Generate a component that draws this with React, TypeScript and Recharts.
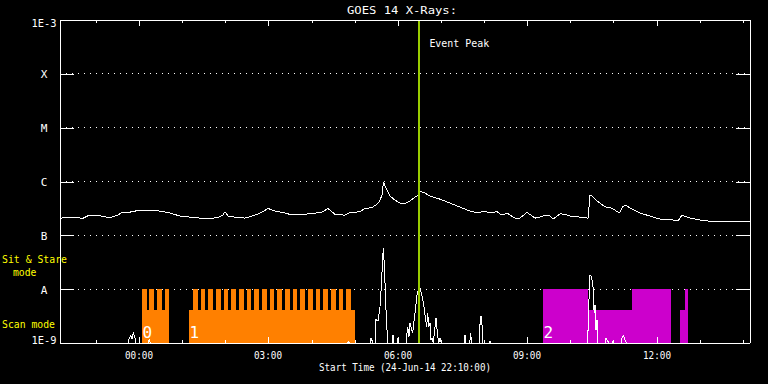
import React from 'react'
import { ComposedChart, Line, XAxis, YAxis, CartesianGrid, ReferenceArea, ReferenceLine } from 'recharts'

const W = 768
const H = 384
const FONT = '"DejaVu Sans Mono", monospace'

// hours from 00:00 UT (25-Jun-14); the plot starts 24-Jun-14 22:10
const longHours = [
  -1.833, -1.671, -1.486, -1.3, -1.184, -0.906, -0.674, -0.489, -0.396, -0.21,
  0.022, 0.254, 0.486, 0.718, 0.949, 1.181, 1.413, 1.645, 1.83, 1.946,
  1.993, 2.062, 2.225, 2.457, 2.689, 2.851, 2.99, 3.152, 3.384, 3.5,
  3.732, 3.964, 4.242, 4.381, 4.543, 4.775, 4.891, 5.123, 5.239, 5.401,
  5.54, 5.587, 5.633, 5.668, 5.726, 5.819, 5.935, 6.051, 6.167, 6.283,
  6.399, 6.468, 6.5, 6.631, 6.747, 6.979, 7.21, 7.442, 7.674, 7.859,
  7.975, 8.137, 8.3, 8.416, 8.532, 8.717, 8.833, 8.996, 9.181, 9.297,
  9.413, 9.529, 9.599, 9.761, 9.877, 9.993, 10.225, 10.411, 10.457, 10.48,
  10.573, 10.689, 10.805, 10.967, 11.106, 11.153, 11.222, 11.292, 11.384, 11.616,
  11.848, 12.08, 12.312, 12.497, 12.59, 12.776, 13.008, 13.24, 13.472, 13.704,
  13.936, 14.167,
]
const longFlux = [
  2.07e-7, 2.18e-7, 2.14e-7, 2.07e-7, 2.31e-7, 2.31e-7, 2.12e-7, 2.37e-7, 2.67e-7, 2.7e-7,
  2.94e-7, 2.94e-7, 2.82e-7, 2.59e-7, 2.28e-7, 2.18e-7, 2.09e-7, 2.05e-7, 2.14e-7, 2.4e-7,
  2.74e-7, 2.28e-7, 2.18e-7, 2.09e-7, 2.37e-7, 2.7e-7, 3.16e-7, 2.82e-7, 2.59e-7, 2.45e-7,
  2.47e-7, 2.5e-7, 2.7e-7, 3.16e-7, 2.45e-7, 2.37e-7, 2.64e-7, 2.74e-7, 3.16e-7, 3.27e-7,
  3.92e-7, 4.51e-7, 5.58e-7, 9.84e-7, 7.52e-7, 5.35e-7, 4.51e-7, 3.96e-7, 3.9e-7, 4.34e-7,
  5.12e-7, 5.58e-7, 6.7e-7, 6.07e-7, 5.35e-7, 4.7e-7, 3.96e-7, 3.34e-7, 2.82e-7, 2.59e-7,
  2.82e-7, 2.64e-7, 2.74e-7, 2.37e-7, 2.59e-7, 2.09e-7, 2.09e-7, 2.67e-7, 2.09e-7, 2.18e-7,
  2.37e-7, 2.28e-7, 2.0e-7, 2.5e-7, 2.47e-7, 2.28e-7, 2.18e-7, 2.09e-7, 5.58e-7, 5.58e-7,
  4.7e-7, 3.96e-7, 3.39e-7, 3.2e-7, 2.7e-7, 2.7e-7, 3.45e-7, 3.6e-7, 3.2e-7, 2.59e-7,
  2.28e-7, 2.0e-7, 1.97e-7, 1.84e-7, 2.37e-7, 2.09e-7, 1.93e-7, 1.82e-7, 1.78e-7, 1.82e-7,
  1.84e-7, 1.78e-7,
]

const shortHours = [
  -1.833, -0.257, -0.226, -0.194, -0.164, -0.133, -0.101, -0.071, 0.207, 0.237,
  0.265, 4.822, 4.852, 4.88, 5.355, 5.378, 5.425, 5.483, 5.494, 5.541,
  5.587, 5.622, 5.65, 5.664, 5.68, 5.703, 5.726, 5.749, 5.772, 5.865,
  5.888, 5.911, 5.981, 6.004, 6.027, 6.19, 6.229, 6.259, 6.283, 6.322,
  6.345, 6.382, 6.415, 6.438, 6.461, 6.515, 6.554, 6.591, 6.631, 6.67,
  6.693, 6.716, 6.746, 6.77, 6.793, 6.823, 6.886, 6.916, 6.948, 6.978,
  7.009, 7.535, 7.558, 7.581, 7.667, 7.69, 7.709, 7.894, 7.906, 7.929,
  7.952, 7.975, 8.126, 8.138, 8.149, 10.387, 10.41, 10.433, 10.457, 10.487,
  10.503, 10.526, 10.542, 10.556, 10.573, 10.596, 10.619, 10.642, 10.805, 10.828,
  10.851, 10.897, 10.974, 10.997, 11.013, 11.175, 11.199, 11.238, 11.268, 11.306,
  14.167,
]
const shortFlux = [
  1e-9, 1e-9, 1.25e-9, 1.37e-9, 1.2e-9, 1.55e-9, 1.3e-9, 1e-9, 1e-9, 1.15e-9,
  1e-9, 1e-9, 1.06e-9, 1e-9, 1e-9, 1.25e-9, 1e-9, 1e-9, 2.7e-9, 2.6e-9,
  4.7e-9, 1.31e-8, 3.96e-8, 5.8e-8, 3.49e-8, 1.31e-8, 4.14e-9, 1.76e-9, 1e-9, 1e-9,
  1.43e-9, 1e-9, 1e-9, 1.25e-9, 1e-9, 1e-9, 2.0e-9, 1.3e-9, 2.38e-9, 1.76e-9,
  1.55e-9, 2.82e-9, 4.5e-9, 7.2e-9, 8.9e-9, 1.06e-8, 7.8e-9, 5.8e-9, 3.34e-9, 2.0e-9,
  3.64e-9, 2.0e-9, 2.38e-9, 1.15e-9, 1.25e-9, 1e-9, 2.94e-9, 1.55e-9, 1e-9, 1.25e-9,
  1e-9, 1e-9, 1.43e-9, 1e-9, 1e-9, 1.5e-9, 1e-9, 1e-9, 2.2e-9, 3.2e-9,
  2.18e-9, 1e-9, 1e-9, 1.1e-9, 1e-9, 1e-9, 1.64e-9, 6.3e-9, 1.84e-8, 1.71e-8,
  1.49e-8, 1.12e-8, 4.76e-9, 3.64e-9, 5.1e-9, 1.76e-9, 2.7e-9, 1e-9, 1e-9, 1.25e-9,
  1.15e-9, 1e-9, 1e-9, 1.1e-9, 1e-9, 1e-9, 1.25e-9, 1.37e-9, 1.15e-9, 1e-9,
  1e-9,
]

// observing mode blocks: [start, end] in hours
const orangeScan = [[0.068, 0.694], [1.158, 5.007]]
const orangeStare = [
  [0.068, 0.177], [0.23, 0.346], [0.416, 0.532], [0.602, 0.694],
  [1.251, 1.36], [1.429, 1.538], [1.606, 1.715], [1.784, 1.893], [1.963, 2.072],
  [2.139, 2.248], [2.318, 2.427], [2.496, 2.605], [2.672, 2.781], [2.851, 2.96],
  [3.029, 3.138], [3.206, 3.315], [3.384, 3.493], [3.563, 3.672], [3.739, 3.848],
  [3.917, 4.026], [4.096, 4.205], [4.272, 4.381], [4.451, 4.56], [4.629, 4.738],
  [4.806, 4.915],
]
const magentaScan = [[10.41, 11.43], [12.544, 12.66]]
const magentaStare = [[9.366, 10.41], [11.43, 12.335], [12.66, 12.73]]
const blockNames = ['0', '1', '2']
const blockStarts = [0.068, 1.158, 9.366]
const stareLevel = 1e-8
const scanLevel = 4.14e-9
const eventPeak = 6.5

const yTicks = [1e-9, 1e-8, 1e-7, 1e-6, 1e-5, 1e-4, 1e-3]
const yLabels = ['1E-9', 'A', 'B', 'C', 'M', 'X', '1E-3']
const hourTicks = [-1, 0, 1, 2, 3, 4, 5, 6, 7, 8, 9, 10, 11, 12, 13, 14]
const labelHours = [0, 3, 6, 9, 12]
const labelTexts = ['00:00', '03:00', '06:00', '09:00', '12:00']

const longData = longHours.map((t, i) => ({ t, f: longFlux[i] }))
const shortData = shortHours.map((t, i) => ({ t, f: shortFlux[i] }))

const ORANGE = '#ff8000'
const MAGENTA = '#cc00cc'
const PLOT_TOP = 20
const PLOT_BOTTOM = 343
const PLOT_LEFT = 60
const PLOT_RIGHT = 750

const txt = { fill: '#fff', fontFamily: FONT, fontSize: 11 }

const BottomTick = (p: any) => {
  const k = labelHours.indexOf(p.payload.value)
  const len = k >= 0 ? 6 : 3
  const x = Math.round(p.x)
  return (
    <g>
      <rect x={x} y={PLOT_BOTTOM - len} width={1} height={len} fill="#fff" />
      {k >= 0 && (
        <text x={x} y={PLOT_BOTTOM + 16} textAnchor="middle" {...txt} textLength={28} lengthAdjust="spacingAndGlyphs">
          {labelTexts[k]}
        </text>
      )}
    </g>
  )
}

const TopTick = (p: any) => {
  const len = labelHours.indexOf(p.payload.value) >= 0 ? 6 : 3
  return <rect x={Math.round(p.x)} y={PLOT_TOP} width={1} height={len} fill="#fff" />
}

const LeftTick = (p: any) => {
  const i = p.index
  const shift = i === 0 ? -3 : i === yTicks.length - 1 ? 2.7 : 0.5
  const label = yLabels[i]
  return (
    <g>
      <rect x={PLOT_LEFT} y={Math.round(p.y)} width={14} height={1} fill="#fff" />
      <text
        x={44} y={p.y + shift + 4} textAnchor="middle" {...txt}
        {...(label.length > 1 ? { textLength: 25, lengthAdjust: 'spacingAndGlyphs' } : {})}
      >
        {label}
      </text>
    </g>
  )
}

const RightTick = (p: any) => <rect x={PLOT_RIGHT - 14} y={Math.round(p.y)} width={14} height={1} fill="#fff" />

const blockLabel = (name: string) => (p: any) => (
  <text x={p.viewBox.x + 0.5} y={p.viewBox.y + p.viewBox.height - 4.7} fill="#fff" fontFamily={FONT} fontSize={16}>
    {name}
  </text>
)

const peakLabel = (p: any) => (
  <text x={p.viewBox.x + 10} y={p.viewBox.y + 27} {...txt} textLength={60} lengthAdjust="spacingAndGlyphs">
    Event Peak
  </text>
)

export default function App() {
  return (
    <div style={{ position: 'absolute', left: 0, top: 0, width: W, height: H, background: '#000', shapeRendering: 'crispEdges' }}>
      <ComposedChart width={W} height={H} margin={{ top: 0, right: 0, bottom: 0, left: 0 }}>
        <CartesianGrid vertical={false} stroke="#fff" strokeDasharray="1 5" />
        {orangeScan.map(([a, b], i) => (
          <ReferenceArea key={'os' + i} x1={a} x2={b} y1={1e-9} y2={scanLevel} fill={ORANGE} fillOpacity={1} stroke="none" />
        ))}
        {orangeStare.map(([a, b], i) => (
          <ReferenceArea key={'oh' + i} x1={a} x2={b} y1={1e-9} y2={stareLevel} fill={ORANGE} fillOpacity={1} stroke="none" />
        ))}
        {magentaScan.map(([a, b], i) => (
          <ReferenceArea key={'ms' + i} x1={a} x2={b} y1={1e-9} y2={scanLevel} fill={MAGENTA} fillOpacity={1} stroke="none" />
        ))}
        {magentaStare.map(([a, b], i) => (
          <ReferenceArea key={'mh' + i} x1={a} x2={b} y1={1e-9} y2={stareLevel} fill={MAGENTA} fillOpacity={1} stroke="none" />
        ))}
        {blockNames.map((n, i) => (
          <ReferenceLine key={'bl' + i} x={blockStarts[i]} strokeOpacity={0} label={blockLabel(n)} />
        ))}
        <Line data={longData} dataKey="f" type="linear" stroke="#fff" strokeWidth={1} dot={false} isAnimationActive={false} />
        <Line data={shortData} dataKey="f" type="linear" stroke="#fff" strokeWidth={1} dot={false} isAnimationActive={false} />
        <ReferenceLine x={eventPeak} stroke="#99cc00" strokeWidth={2} label={peakLabel} />
        <XAxis
          type="number" dataKey="t" domain={[-11 / 6, 85 / 6]} ticks={hourTicks} interval={0} allowDataOverflow
          height={H - PLOT_BOTTOM} axisLine={{ stroke: '#fff' }} tickLine={false} tick={BottomTick}
        />
        <XAxis
          xAxisId="top" orientation="top" type="number" dataKey="t" domain={[-11 / 6, 85 / 6]} ticks={hourTicks} interval={0}
          allowDataOverflow height={PLOT_TOP} axisLine={{ stroke: '#fff' }} tickLine={false} tick={TopTick}
        />
        <YAxis
          type="number" scale="log" domain={[1e-9, 1e-3]} ticks={yTicks} interval={0} allowDataOverflow
          width={PLOT_LEFT} axisLine={{ stroke: '#fff' }} tickLine={false} tick={LeftTick}
        />
        <YAxis
          yAxisId="right" orientation="right" type="number" scale="log" domain={[1e-9, 1e-3]} ticks={yTicks} interval={0}
          allowDataOverflow width={W - PLOT_RIGHT} axisLine={{ stroke: '#fff' }} tickLine={false} tick={RightTick}
        />
      </ComposedChart>
      <svg width={W} height={H} style={{ position: 'absolute', left: 0, top: 0, pointerEvents: 'none' }}>
        <text x={402} y={14} textAnchor="middle" {...txt} textLength={110} lengthAdjust="spacingAndGlyphs">GOES 14 X-Rays:</text>
        <text x={405} y={371} textAnchor="middle" {...txt} textLength={172} lengthAdjust="spacingAndGlyphs">
          Start Time (24-Jun-14 22:10:00)
        </text>
        <text x={2} y={263} {...txt} fill="#ffff00" textLength={65} lengthAdjust="spacingAndGlyphs">Sit &amp; Stare</text>
        <text x={13} y={275.7} {...txt} fill="#ffff00" textLength={23.5} lengthAdjust="spacingAndGlyphs">mode</text>
        <text x={2} y={328.3} {...txt} fill="#ffff00" textLength={53} lengthAdjust="spacingAndGlyphs">Scan mode</text>
      </svg>
    </div>
  )
}
